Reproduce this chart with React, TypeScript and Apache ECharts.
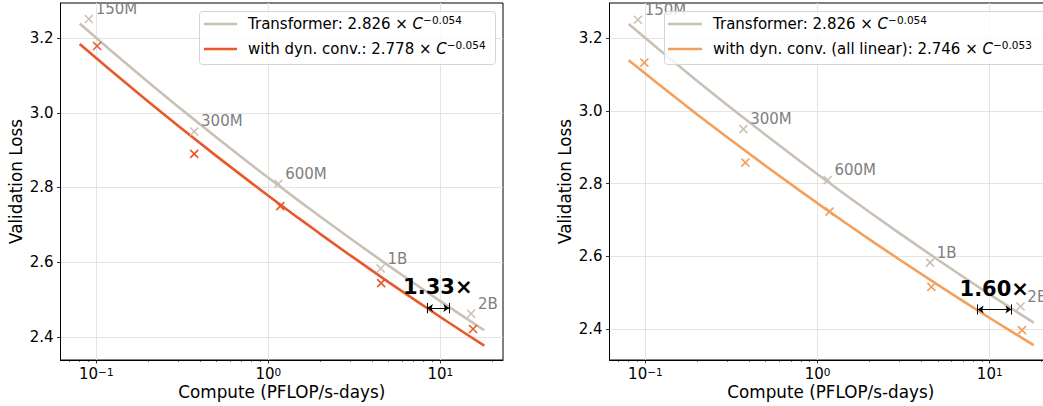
import React, { useEffect, useRef } from 'react';
import * as echarts from 'echarts';

// ---------- data ----------
const modelSizes = ['150M', '300M', '600M', '1B', '2B'];
const transformerCompute = [0.0905, 0.371, 1.145, 4.5, 15.1];
const transformerLoss = [3.251, 2.95, 2.81, 2.583, 2.462];
const dynConvCompute = [0.101, 0.371, 1.174, 4.53, 15.5];
const dynConvLoss = [3.179, 2.89, 2.75, 2.544, 2.421];
const dynConvLinCompute = [0.0987, 0.381, 1.174, 4.58, 15.4];
const dynConvLinLoss = [3.133, 2.858, 2.723, 2.516, 2.397];

// fitted power laws (values of the legend's formulas)
const fitCompute = [0.08, 0.12, 0.2, 0.3, 0.5, 0.8, 1, 1.5, 2, 3, 5, 7, 10, 14, 18];
const transformerFit = [3.239, 3.1688, 3.0826, 3.0158, 2.9338, 2.8603, 2.826, 2.7648, 2.7222, 2.6632, 2.5907, 2.5441, 2.4956, 2.4507, 2.4176];
const dynConvFit = [3.1839, 3.115, 3.0302, 2.9646, 2.8839, 2.8117, 2.778, 2.7178, 2.6759, 2.618, 2.5467, 2.5009, 2.4532, 2.409, 2.3766];
const dynConvLinFit = [3.1393, 3.0726, 2.9905, 2.9269, 2.8488, 2.7787, 2.746, 2.6876, 2.647, 2.5907, 2.5215, 2.4769, 2.4305, 2.3876, 2.356];

const xMajorTicks = [0.1, 1, 10];
const xMinorTicks = [0.07, 0.08, 0.09, 0.2, 0.3, 0.4, 0.5, 0.6, 0.7, 0.8, 0.9, 2, 3, 4, 5, 6, 7, 8, 9, 20];
const yTicks = [2.4, 2.6, 2.8, 3.0, 3.2];

const speedupLabels = ['1.33×', '1.60×'];
const speedupLabelPos = [[9.67, 2.533], [10.62, 2.509]];
const speedupArrowX = [[8.37, 11.28], [8.51, 13.37]];
const speedupArrowY = [2.477, 2.454];

const legendTexts = [
  ['Transformer: 2.826 × {i|C}{sup|−0.054}', 'with dyn. conv.: 2.778 × {i|C}{sup|−0.054}'],
  ['Transformer: 2.826 × {i|C}{sup|−0.054}', 'with dyn. conv. (all linear): 2.746 × {i|C}{sup|−0.053}'],
];

// ---------- style ----------
const FONT = 'DejaVu Sans';
const GRAY = '#c9c1b5';
const RED = '#e8582b';
const ORANGE = '#f4a05a';
const LABEL_GRAY = '#808080';
const GRID_LINE = '#e4e4e4';
const X_PATH = 'path://M0,0L10,10M10,0L0,10';

const panels = [
  { left: 60.5, xMin: 0.0619, xMax: 23.15, yMin: 2.338, yMax: 3.294, other: dynConvFit, otherC: dynConvCompute, otherL: dynConvLoss, color: RED,
    legend: { x: 199.5, w: 296, lx1: 204, lx2: 237, tx: 248 } },
  { left: 609.5, xMin: 0.0619, xMax: 23.0, yMin: 2.315, yMax: 3.297, other: dynConvLinFit, otherC: dynConvLinCompute, otherL: dynConvLinLoss, color: ORANGE,
    legend: { x: 664.5, w: 400, lx1: 668, lx2: 702, tx: 713 } },
];

function supLabel(v: number) {
  const e = Math.round(Math.log10(v));
  return '10{sup|' + (e < 0 ? '−' + -e : String(e)) + '}';
}

export default function App() {
  const ref = useRef<HTMLDivElement>(null);
  useEffect(() => {
    if (!ref.current) return;
    const chart = echarts.init(ref.current, undefined, { renderer: 'svg' });

    const grids: any[] = [];
    const xAxes: any[] = [];
    const yAxes: any[] = [];
    const series: any[] = [];
    const graphics: any[] = [];

    panels.forEach((p, g) => {
      grids.push({
        left: p.left, top: 3, width: 442.5, height: 357,
        show: true, borderColor: '#000', borderWidth: 1, backgroundColor: 'transparent',
        outerBoundsMode: 'none', containLabel: false,
      });
      xAxes.push({
        type: 'log', logBase: 10, gridIndex: g, min: p.xMin, max: p.xMax, position: 'bottom',
        name: 'Compute (PFLOP/s-days)', nameLocation: 'middle', nameGap: 23, nameMoveOverlap: false,
        nameTextStyle: { fontSize: 16.8, color: '#000', fontFamily: FONT },
        axisLine: { show: true, lineStyle: { color: '#000', width: 1 } },
        axisTick: { show: true, customValues: xMajorTicks, length: 3.5, lineStyle: { color: '#000', width: 0.8 } },
        axisLabel: {
          customValues: xMajorTicks, margin: 6, color: '#000', fontSize: 15, fontFamily: FONT,
          formatter: (v: number) => supLabel(v),
          rich: { sup: { fontSize: 10.5, verticalAlign: 'top', lineHeight: 11, fontFamily: FONT, color: '#000' } },
        },
        splitLine: { show: true, lineStyle: { color: GRID_LINE, width: 1 } },
      });
      xAxes.push({
        type: 'log', logBase: 10, gridIndex: g, min: p.xMin, max: p.xMax, position: 'bottom', offset: 0,
        axisLine: { show: false },
        axisTick: { show: true, customValues: xMinorTicks, length: 2, lineStyle: { color: '#000', width: 0.6 } },
        axisLabel: { show: false },
        splitLine: { show: false },
      });
      yAxes.push({
        type: 'value', gridIndex: g, min: p.yMin, max: p.yMax, position: 'left',
        name: 'Validation Loss', nameLocation: 'middle', nameGap: 36, nameRotate: 90, nameMoveOverlap: false,
        nameTextStyle: { fontSize: 16.8, color: '#000', fontFamily: FONT },
        axisLine: { show: true, lineStyle: { color: '#000', width: 1 } },
        axisTick: { show: true, customValues: yTicks, length: 3.5, lineStyle: { color: '#000', width: 0.8 } },
        axisLabel: { customValues: yTicks, margin: 7, color: '#000', fontSize: 15, fontFamily: FONT, formatter: (v: number) => v.toFixed(1) },
        splitLine: { show: true, lineStyle: { color: GRID_LINE, width: 1 } },
      });

      const xi = g * 2;
      const yi = g;
      series.push({
        type: 'line', xAxisIndex: xi, yAxisIndex: yi, showSymbol: false, symbol: 'none', z: 2,
        data: fitCompute.map((c, i) => [c, transformerFit[i]]),
        lineStyle: { color: GRAY, width: 2.6 },
      });
      series.push({
        type: 'line', xAxisIndex: xi, yAxisIndex: yi, showSymbol: false, symbol: 'none', z: 2,
        data: fitCompute.map((c, i) => [c, p.other[i]]),
        lineStyle: { color: p.color, width: 2.6 },
      });
      series.push({
        type: 'scatter', xAxisIndex: xi, yAxisIndex: yi, symbol: X_PATH, symbolSize: 8, z: 3,
        data: transformerCompute.map((c, i) => ({ value: [c, transformerLoss[i]], name: modelSizes[i] })),
        itemStyle: { color: 'rgba(0,0,0,0)', borderColor: GRAY, borderWidth: 1.6, opacity: 1 },
        label: {
          show: true, position: 'right', distance: 2, offset: [0, -10], formatter: '{b}',
          color: LABEL_GRAY, fontSize: 15, fontFamily: FONT,
        },
      });
      series.push({
        type: 'scatter', xAxisIndex: xi, yAxisIndex: yi, symbol: X_PATH, symbolSize: 8, z: 3,
        data: p.otherC.map((c, i) => [c, p.otherL[i]]),
        itemStyle: { color: 'rgba(0,0,0,0)', borderColor: p.color, borderWidth: 1.6, opacity: 1 },
      });
      series.push({
        type: 'scatter', xAxisIndex: xi, yAxisIndex: yi, symbolSize: 0, z: 4,
        data: [speedupLabelPos[g]],
        itemStyle: { color: 'rgba(0,0,0,0)', opacity: 1 },
        label: {
          show: true, position: 'inside', formatter: speedupLabels[g],
          color: '#000', fontSize: 21, fontWeight: 'bold', fontFamily: FONT,
          textBorderWidth: 0, opacity: 1,
        },
      });
      const [ax1, ax2] = speedupArrowX[g];
      const ay = speedupArrowY[g];
      const h = 0.014;
      series.push({
        type: 'line', xAxisIndex: xi, yAxisIndex: yi, symbol: 'none', z: 4,
        data: [[ax1, ay], [ax2, ay]],
        lineStyle: { opacity: 0 },
        markLine: {
          silent: true, animation: false,
          symbol: ['arrow', 'arrow'], symbolSize: 6,
          lineStyle: { color: '#000', width: 1, type: 'solid' },
          label: { show: false },
          emphasis: { disabled: true },
          data: [
            [{ coord: [ax1, ay] }, { coord: [ax2, ay] }],
            [{ coord: [ax1, ay - h], symbol: 'none' }, { coord: [ax1, ay + h], symbol: 'none' }],
            [{ coord: [ax2, ay - h], symbol: 'none' }, { coord: [ax2, ay + h], symbol: 'none' }],
          ],
        },
      });

      // legend (matplotlib-style box)
      const L = p.legend;
      const richStyle = {
        i: { fontStyle: 'italic', fontSize: 15, lineHeight: 20, fontFamily: FONT },
        sup: { fontSize: 10.5, lineHeight: 11, verticalAlign: 'top', fontFamily: FONT },
      };
      graphics.push({
        type: 'rect', z: 100,
        shape: { x: L.x, y: 11.5, width: L.w, height: 53, r: 3 },
        style: { fill: 'rgba(255,255,255,0.8)', stroke: '#d5d5d5', lineWidth: 1 },
      });
      [GRAY, p.color].forEach((col, r) => {
        const cy = 24 + r * 25;
        graphics.push({
          type: 'line', z: 101,
          shape: { x1: L.lx1, y1: cy, x2: L.lx2, y2: cy },
          style: { stroke: col, lineWidth: 2.6 },
        });
        graphics.push({
          type: 'text', z: 101, x: L.tx, y: cy,
          style: {
            text: legendTexts[g][r], fill: '#000', fontSize: 15, fontFamily: FONT, lineHeight: 20,
            verticalAlign: 'middle', align: 'left', rich: richStyle,
          },
        });
      });
    });

    chart.setOption({
      animation: false,
      backgroundColor: '#fff',
      textStyle: { fontFamily: FONT },
      grid: grids,
      xAxis: xAxes,
      yAxis: yAxes,
      series,
      graphic: graphics,
    });
    return () => chart.dispose();
  }, []);

  return <div ref={ref} style={{ position: 'fixed', left: 0, top: 0, width: 1043, height: 406 }} />;
}
